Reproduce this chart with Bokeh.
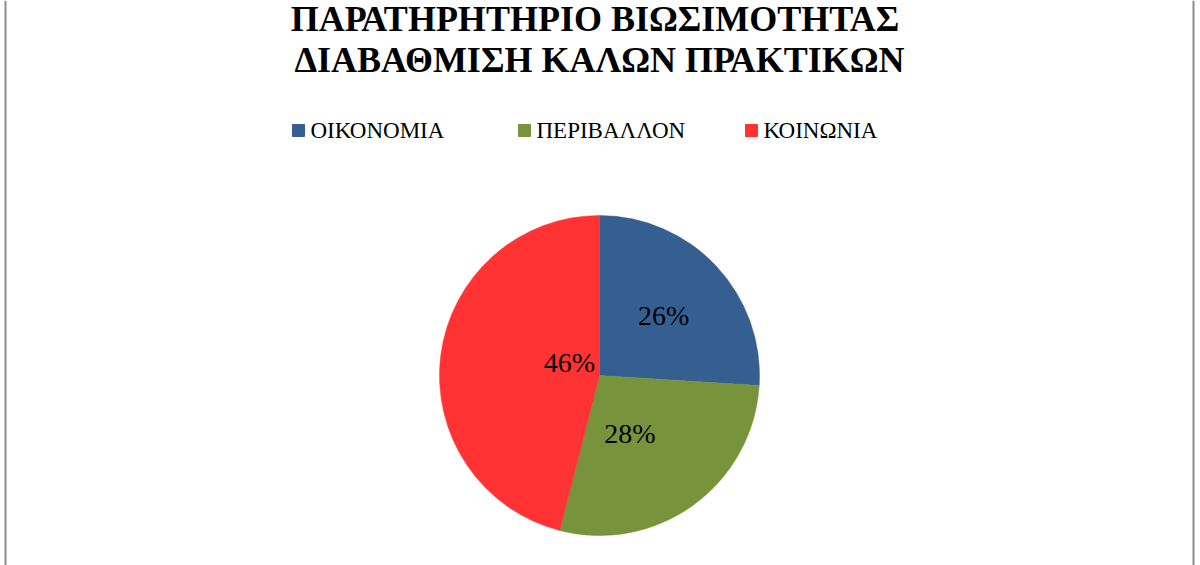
from bokeh.plotting import figure
from bokeh.models import Range1d, Span
from bokeh.embed import file_html
from bokeh.resources import INLINE
from bokeh.core.properties import value
import math

# ---- data ----
title_lines = ["ΠΑΡΑΤΗΡΗΤΗΡΙΟ  ΒΙΩΣΙΜΟΤΗΤΑΣ", "ΔΙΑΒΑΘΜΙΣΗ ΚΑΛΩΝ ΠΡΑΚΤΙΚΩΝ"]
categories = ["ΟΙΚΟΝΟΜΙΑ", "ΠΕΡΙΒΑΛΛΟΝ", "ΚΟΙΝΩΝΙΑ"]
shares = [26, 28, 46]
colors = ["#355F91", "#77933C", "#FF3333"]

# ---- layout (screen-pixel based) ----
W, H = 1200, 565
cx, cy, r = 599, H - 375, 160
label_frac = [0.55, 0.45, 0.19]
label_nudge_x = [0, -12, 0]
label_nudge_y = [0, 0, 9]
legend_x = [298, 524, 751]
legend_y = H - 130
serif = value("Liberation Serif")

p = figure(width=W, height=H, output_backend="svg", toolbar_location=None,
           x_range=Range1d(0, W), y_range=Range1d(0, H),
           min_border=0, outline_line_color=None, background_fill_color="#FFFFFF",
           border_fill_color="#FFFFFF")
p.axis.visible = False
p.grid.visible = False

total = sum(shares)
start = math.pi / 2
starts, ends, mids = [], [], []
for s in shares:
    a = 2 * math.pi * s / total
    starts.append(start)
    ends.append(start - a)
    mids.append(start - a / 2)
    start -= a

p.wedge(x=cx, y=cy, radius=r, start_angle=starts, end_angle=ends, direction="clock",
        fill_color=colors, line_color=colors, line_width=0.5)

lx = [cx + f * r * math.cos(m) + dx for f, m, dx in zip(label_frac, mids, label_nudge_x)]
ly = [cy + f * r * math.sin(m) + dy for f, m, dy in zip(label_frac, mids, label_nudge_y)]
p.text(x=lx, y=ly, text=[f"{s}%" for s in shares], text_align="center",
       text_baseline="middle", text_font=serif, text_font_size="28px", text_color="#000000")

# title
p.text(x=[599, 599], y=[H - 18, H - 59], text=title_lines, text_align="center",
       text_baseline="middle", text_font=serif, text_font_style="bold",
       text_font_size="36px", text_color="#000000")

# legend
p.scatter(x=legend_x, y=[legend_y] * 3, marker="square", size=12,
          fill_color=colors, line_color=colors)
p.text(x=[x + 12 for x in legend_x], y=[legend_y] * 3, text=categories,
       text_align="left", text_baseline="middle", text_font=serif,
       text_font_size="23px", text_color="#000000")

# outer chart border (sides)
for loc in (5, 1193):
    p.add_layout(Span(location=loc, dimension="height", line_color="#8C8C8C", line_width=2))

open("out.html", "w").write(file_html(p, INLINE))
